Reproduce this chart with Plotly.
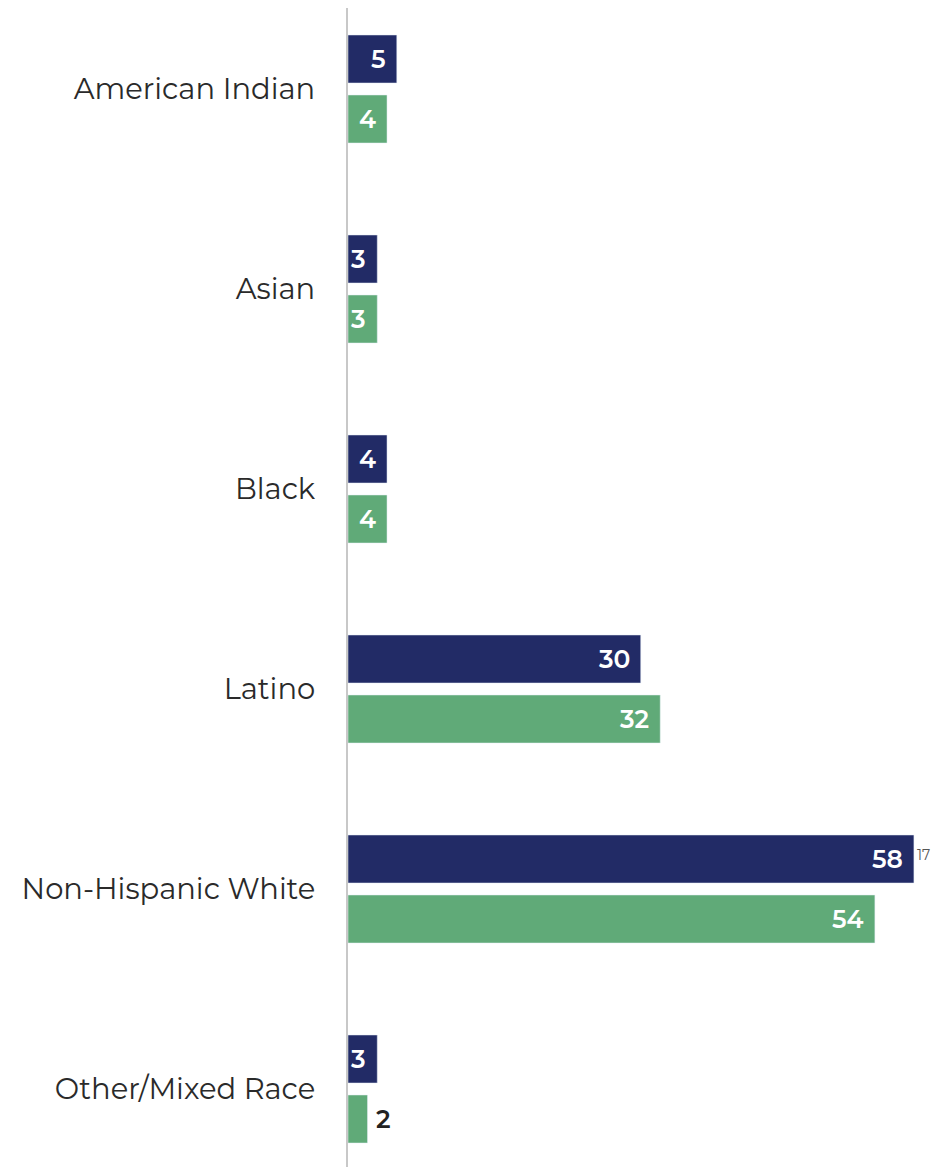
import plotly.graph_objects as go

categories = ["American Indian", "Asian", "Black", "Latino", "Non-Hispanic White", "Other/Mixed Race"]
series_a = [5, 3, 4, 30, 58, 3]   # navy
series_b = [4, 3, 4, 32, 54, 2]   # green
footnote_label = "17"
footnote_index = 4

NAVY = "#222B66"
GREEN = "#60AA78"
FONT = "Montserrat, Lato, 'Open Sans', sans-serif"

pos = list(range(len(categories)))

fig = go.Figure()
fig.add_trace(go.Bar(y=pos, x=series_a, orientation="h", marker_color=NAVY,
                     width=0.24, offset=-0.27, hoverinfo="skip"))
fig.add_trace(go.Bar(y=pos, x=series_b, orientation="h", marker_color=GREEN,
                     width=0.24, offset=0.03, hoverinfo="skip"))

annotations = []
for i, (a, b) in enumerate(zip(series_a, series_b)):
    for v, yc in ((a, i - 0.15), (b, i + 0.15)):
        inside = v >= 3
        annotations.append(dict(
            x=v, y=yc, xref="x", yref="y", text=f"{v}", showarrow=False,
            xanchor="right" if inside else "left", xshift=-9 if inside else 6,
            font=dict(family=FONT, size=25, weight=600, color="white" if inside else "#222222")))
annotations.append(dict(x=series_a[footnote_index], y=footnote_index - 0.17, xref="x", yref="y",
                        text=footnote_label, showarrow=False, xanchor="left", xshift=1,
                        font=dict(family=FONT, size=14, color="#555555")))

fig.update_layout(
    width=943, height=1167,
    margin=dict(l=340, r=0, t=0, b=0, autoexpand=False),
    paper_bgcolor="white", plot_bgcolor="white",
    showlegend=False, barmode="overlay",
    annotations=annotations,
    xaxis=dict(range=[0, 61.8], showgrid=False, zeroline=False, showticklabels=False,
               showline=False, fixedrange=True, automargin=False),
    yaxis=dict(range=[5.43, -0.405], tickvals=pos, ticktext=categories, showgrid=False,
               zeroline=False, showline=True, linecolor="#C8C8C8", linewidth=2,
               ticks="", ticklabelstandoff=25, automargin=False,
               tickfont=dict(family=FONT, size=29, color="#2a2a2a")),
)

fig.write_html("out.html")
